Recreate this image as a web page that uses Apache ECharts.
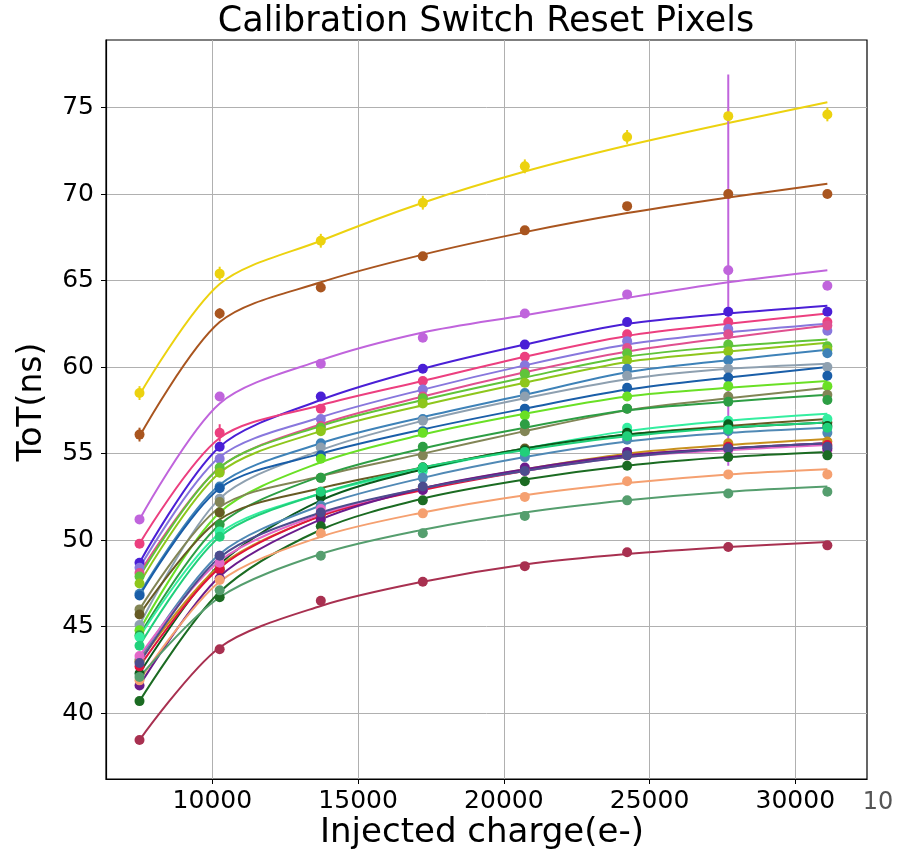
<!DOCTYPE html>
<html><head><meta charset="utf-8">
<script src="https://cdn.jsdelivr.net/npm/echarts@6/dist/echarts.min.js"></script>
<style>html,body{margin:0;padding:0;background:#fff}#c{width:900px;height:854px}</style>
</head><body><div id="c"></div>
<script>
// Injected charge (e-) at each calibration step
const charges = [7500, 10250, 13720, 17220, 20720, 24230, 27700, 31100];
const xTicks = [10000, 15000, 20000, 25000, 30000];
const yTicks = [40, 45, 50, 55, 60, 65, 70, 75];

// ToT (ns) per pixel (measured points)
const pix01 = [58.5, 65.4, 67.3, 69.5, 71.6, 73.3, 74.5, 74.6];
const pix02 = [56.1, 63.1, 64.6, 66.4, 67.9, 69.3, 70.0, 70.0];
const pix03 = [51.2, 58.3, 60.2, 61.7, 63.1, 64.2, 65.6, 64.7];
const pix04 = [48.7, 55.4, 58.3, 59.9, 61.3, 62.6, 63.2, 63.2];
const pix05 = [49.8, 56.2, 57.6, 59.2, 60.6, 61.9, 62.6, 62.6];
const pix06 = [48.4, 54.7, 57.0, 58.7, 60.1, 61.5, 62.2, 62.1];
const pix07 = [48.1, 54.0, 56.6, 58.3, 59.7, 61.1, 61.9, 62.4];
const pix08 = [47.9, 54.2, 56.5, 58.2, 59.6, 60.8, 61.3, 61.2];
const pix09 = [47.5, 53.9, 56.3, 57.9, 59.1, 60.4, 60.9, 61.0];
const pix10 = [46.9, 53.1, 55.6, 57.0, 58.5, 59.9, 60.4, 60.8];
const pix11 = [45.1, 52.4, 55.35, 56.9, 58.3, 59.5, 59.9, 60.0];
const pix12 = [46.8, 53.0, 54.9, 56.3, 57.6, 58.8, 59.4, 59.5];
const pix13 = [44.8, 51.6, 54.7, 56.2, 57.2, 58.3, 58.9, 58.9];
const pix14 = [46.0, 52.2, 53.6, 54.9, 56.3, 57.6, 58.3, 58.4];
const pix15 = [44.5, 50.9, 53.6, 55.4, 56.7, 57.6, 58.0, 58.1];
const pix16 = [45.7, 51.6, 52.8, 54.2, 55.3, 56.2, 56.6, 56.8];
const pix17 = [44.4, 50.5, 52.6, 54.0, 55.0, 56.5, 56.9, 57.0];
const pix18 = [42.3, 48.3, 52.5, 54.2, 55.2, 56.2, 56.7, 56.6];
const pix19 = [43.1, 49.1, 52.0, 53.6, 54.8, 55.8, 56.3, 56.2];
const pix20 = [43.0, 48.4, 51.4, 53.0, 54.1, 55.0, 55.6, 55.7];
const pix21 = [42.7, 48.3, 51.5, 53.0, 54.0, 54.9, 55.4, 55.5];
const pix22 = [43.3, 48.7, 51.8, 52.9, 54.0, 55.0, 55.2, 55.2];
const pix23 = [41.6, 47.8, 51.2, 52.9, 54.2, 55.1, 55.3, 55.3];
const pix24 = [42.9, 49.1, 51.6, 53.1, 54.0, 54.9, 55.3, 55.4];
const pix25 = [40.7, 46.7, 50.8, 52.3, 53.4, 54.3, 54.8, 54.9];
const pix26 = [41.9, 47.7, 50.4, 51.55, 52.5, 53.4, 53.8, 53.8];
const pix27 = [42.1, 47.1, 49.1, 50.4, 51.4, 52.3, 52.7, 52.8];
const pix28 = [38.45, 43.7, 46.5, 47.6, 48.5, 49.3, 49.6, 49.7];
const pix29 = [43.9, 50.2, 52.8, 54.2, 55.1, 56.0, 56.4, 56.5];

// fitted curve values (ns) read at the same charges
const fit01 = [58.4, 64.8, 67.3, 69.5, 71.3, 72.8, 74.1, 75.3];
const fit02 = [56.0, 62.6, 64.9, 66.5, 67.8, 68.9, 69.8, 70.6];
const fit03 = [51.2, 57.9, 60.4, 62.0, 63.0, 64.0, 64.9, 65.6];
const fit04 = [48.7, 55.4, 58.1, 59.9, 61.3, 62.5, 63.1, 63.55];
const fit05 = [49.8, 55.9, 57.8, 59.2, 60.6, 61.8, 62.5, 63.1];
const fit06 = [48.4, 54.8, 57.1, 58.7, 60.1, 61.3, 62.0, 62.5];
const fit07 = [48.1, 54.2, 56.7, 58.3, 59.7, 60.9, 61.7, 62.4];
const fit08 = [47.9, 54.2, 56.6, 58.1, 59.4, 60.6, 61.2, 61.6];
const fit09 = [47.5, 53.9, 56.3, 57.8, 59.1, 60.3, 60.9, 61.4];
const fit10 = [46.9, 53.2, 55.6, 57.1, 58.4, 59.7, 60.4, 61.0];
const fit11 = [45.1, 52.4, 55.2, 56.9, 58.2, 59.3, 59.9, 60.2];
const fit12 = [46.8, 53.0, 55.0, 56.4, 57.6, 58.7, 59.4, 60.0];
const fit13 = [44.8, 51.6, 54.5, 56.1, 57.3, 58.3, 58.8, 59.2];
const fit14 = [46.0, 51.9, 53.7, 55.0, 56.3, 57.5, 58.2, 58.8];
const fit15 = [44.5, 50.9, 53.7, 55.3, 56.5, 57.5, 58.0, 58.4];
const fit16 = [45.7, 51.2, 53.0, 54.2, 55.3, 56.1, 56.6, 57.0];
const fit17 = [44.4, 50.4, 52.7, 54.1, 55.3, 56.3, 56.9, 57.3];
const fit18 = [42.3, 48.6, 52.3, 54.1, 55.3, 56.1, 56.5, 56.8];
const fit19 = [43.1, 49.2, 52.0, 53.6, 54.8, 55.7, 56.2, 56.5];
const fit20 = [43.0, 48.5, 51.4, 53.0, 54.1, 55.0, 55.5, 55.85];
const fit21 = [42.7, 48.4, 51.4, 52.9, 54.0, 54.9, 55.3, 55.6];
const fit22 = [43.3, 48.8, 51.5, 53.0, 54.0, 54.8, 55.2, 55.5];
const fit23 = [41.6, 47.9, 51.2, 53.0, 54.1, 54.9, 55.3, 55.6];
const fit24 = [42.9, 49.0, 51.6, 53.0, 54.0, 54.8, 55.3, 55.6];
const fit25 = [40.7, 47.0, 50.6, 52.4, 53.5, 54.3, 54.8, 55.1];
const fit26 = [41.9, 47.6, 50.2, 51.6, 52.6, 53.3, 53.8, 54.1];
const fit27 = [42.1, 46.7, 49.2, 50.6, 51.6, 52.3, 52.8, 53.1];
const fit28 = [38.45, 43.8, 46.2, 47.6, 48.6, 49.2, 49.6, 49.9];
const fit29 = [43.9, 50.2, 52.7, 54.2, 55.2, 56.0, 56.5, 56.8];

// error bars (ns)
const err01 = [0.4, 0.4, 0.4, 0.4, 0.4, 0.4, 0.4, 0.4];
const err02 = [0.4, 0.3, 0, 0, 0, 0, 0, 0];
const err03 = [0, 0, 0, 0, 0, 0, 11.3, 0];
const err05 = [0, 0.5, 0, 0, 0, 0, 0, 0];

const pixels = [pix01,pix02,pix03,pix04,pix05,pix06,pix07,pix08,pix09,pix10,pix11,pix12,pix13,pix14,pix15,pix16,pix17,pix18,pix19,pix20,pix21,pix22,pix23,pix24,pix25,pix26,pix27,pix28,pix29];
const fits = [fit01,fit02,fit03,fit04,fit05,fit06,fit07,fit08,fit09,fit10,fit11,fit12,fit13,fit14,fit15,fit16,fit17,fit18,fit19,fit20,fit21,fit22,fit23,fit24,fit25,fit26,fit27,fit28,fit29];
const errs = {0: err01, 1: err02, 2: err03, 4: err05};

const colors = ['#ecd20f','#a9551f','#c064dc','#4a1fd6','#ec3f7f','#8877dd','#e0508f','#5fc43a','#8ec61c','#3e82b8',
  '#8ea0b0','#1a5ea8','#6ae025','#828556','#2d9e44','#665a24','#34eea0','#0b5a1c','#5089b5','#c8901e',
  '#e0143c','#e268c8','#6a1b8c','#4c4c8e','#1b6b22','#f5a070','#559e6e','#a83050','#20d07a'];

const FONT = 'DejaVu Sans';
const series = [];
pixels.forEach((p, i) => {
  const c = colors[i];
  const f = fits[i];
  series.push({
    type: 'line', data: charges.map((x, j) => [x, f[j]]), smooth: 0.3, showSymbol: false,
    lineStyle: { width: 2, color: c }, itemStyle: { color: c }, z: 2, silent: true, animation: false
  });
  series.push({
    type: 'scatter', data: charges.map((x, j) => [x, p[j]]), symbol: 'circle', symbolSize: 10,
    itemStyle: { color: c, opacity: 1 }, z: 3, silent: true, animation: false
  });
  if (errs[i]) {
    const e = errs[i];
    series.push({
      type: 'custom', z: 3, silent: true, animation: false,
      data: charges.map((x, j) => [x, p[j], e[j]]).filter(d => d[2] > 0),
      renderItem: function (params, api) {
        const x = api.value(0), y = api.value(1), d = api.value(2);
        const a = api.coord([x, y - d]), b = api.coord([x, y + d]);
        return { type: 'line', shape: { x1: a[0], y1: a[1], x2: b[0], y2: b[1] }, style: { stroke: c, lineWidth: 2 } };
      }
    });
  }
});

const chart = echarts.init(document.getElementById('c'), null, { renderer: 'canvas' });
chart.setOption({
  animation: false,
  backgroundColor: '#fff',
  grid: { left: 106, right: 33, top: 40, bottom: 75, show: true, borderColor: '#000', borderWidth: 1.2, backgroundColor: 'transparent' },
  xAxis: {
    type: 'value', min: 6350, max: 32460,
    axisLine: { show: true, lineStyle: { color: '#000', width: 1.2 } },
    axisTick: { show: true, customValues: xTicks, length: 5, lineStyle: { color: '#000' } },
    axisLabel: { customValues: xTicks, color: '#000', fontSize: 25, fontFamily: FONT, margin: 10, formatter: v => String(v) },
    splitLine: { show: true, lineStyle: { color: '#b0b0b0', width: 1 } }
  },
  yAxis: {
    type: 'value', min: 36.2, max: 78.9,
    axisLine: { show: true, lineStyle: { color: '#000', width: 1.2 } },
    axisTick: { show: true, customValues: yTicks, length: 5, lineStyle: { color: '#000' } },
    axisLabel: { customValues: yTicks, color: '#000', fontSize: 25, fontFamily: FONT, margin: 12, formatter: v => String(v) },
    splitLine: { show: true, lineStyle: { color: '#b0b0b0', width: 1 } }
  },
  graphic: [
    { type: 'text', x: 486, y: 22, style: { text: 'Calibration Switch Reset Pixels', font: '35px "DejaVu Sans"', fill: '#000', textAlign: 'center', textVerticalAlign: 'middle' } },
    { type: 'text', x: 482, y: 833, style: { text: 'Injected charge(e-)', font: '34px "DejaVu Sans"', fill: '#000', textAlign: 'center', textVerticalAlign: 'middle' } },
    { type: 'text', x: 32, y: 402, rotation: Math.PI / 2, style: { text: 'ToT(ns)', font: '33px "DejaVu Sans"', fill: '#000', textAlign: 'center', textVerticalAlign: 'middle' } },
    { type: 'text', x: 878, y: 803, style: { text: '10', font: '24px "DejaVu Sans"', fill: '#555', textAlign: 'center', textVerticalAlign: 'middle' } }
  ],
  series: series
});
</script>
</body></html>
